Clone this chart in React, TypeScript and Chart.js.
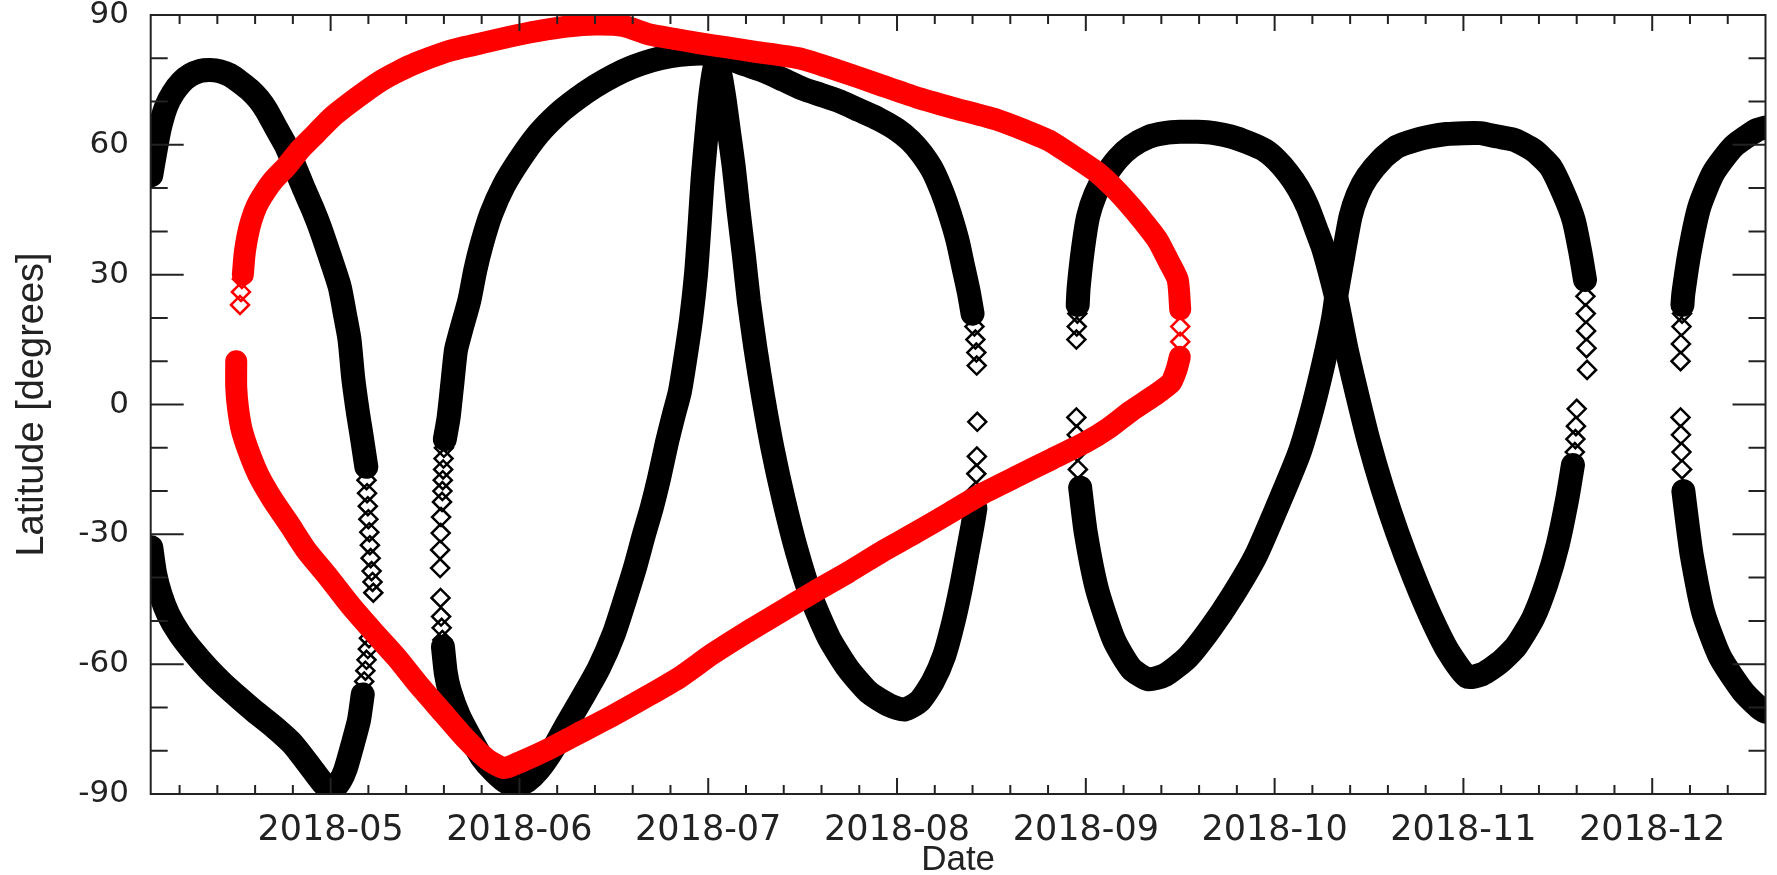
import React, { useEffect, useRef } from 'react';
import { Chart, registerables } from 'chart.js';

Chart.register(...registerables);

type Pt = [number, number];

// x is measured in months of 2018 counted from January = 0 (so 4 = 2018-05-01)
const X_MIN = 3.047;
const X_MAX = 11.6;
const monthTicks = [4, 5, 6, 7, 8, 9, 10, 11];
const monthLabels = ['2018-05', '2018-06', '2018-07', '2018-08', '2018-09', '2018-10', '2018-11', '2018-12'];
const latTicks = [-90, -60, -30, 0, 30, 60, 90];

// ---- black track, first lens (April / early May) ----
const arcA: Pt[] = [
  [3.05, 53], [3.07, 58], [3.096, 64], [3.13, 69], [3.166, 72], [3.21, 74.5], [3.256, 76.1],
  [3.31, 77.1], [3.361, 77.3], [3.415, 77], [3.467, 76.1], [3.52, 74.5], [3.572, 72.7],
  [3.62, 70.5], [3.66, 68], [3.71, 64], [3.766, 59.6], [3.81, 55], [3.854, 50.3], [3.9, 45.7],
  [3.942, 41.1], [3.99, 35], [4.048, 27.2], [4.075, 21], [4.1, 15], [4.12, 6], [4.145, -2],
  [4.162, -6.6], [4.189, -14.4],
];
const colA: Pt[] = [
  [4.19, -17.5], [4.193, -20.5], [4.197, -23.5], [4.2, -26.5], [4.205, -29.5], [4.208, -32.5],
  [4.212, -35.5], [4.217, -38.5], [4.222, -41], [4.226, -43.5],
];
const arcB: Pt[] = [
  [3.05, -33], [3.07, -39], [3.1, -44], [3.14, -48.5], [3.2, -53], [3.27, -57], [3.35, -61],
  [3.43, -64.5], [3.52, -68], [3.6, -71], [3.7, -74.5], [3.8, -78.5], [3.905, -84.4],
  [3.96, -87.5], [4.01, -89], [4.05, -87], [4.078, -84.4], [4.12, -78], [4.15, -73], [4.17, -67],
];
const colB: Pt[] = [[4.178, -64], [4.184, -61.5], [4.19, -59], [4.197, -56.5], [4.203, -54]];

// ---- black track, second lens (mid May to mid August) ----
const colL1: Pt[] = [
  [4.6, -10], [4.598, -12.5], [4.596, -15], [4.594, -17.5], [4.592, -20], [4.59, -22.5],
  [4.585, -26], [4.583, -29.7], [4.58, -33.6], [4.58, -37.8], [4.582, -44.7], [4.585, -49],
  [4.588, -51.6], [4.592, -54.4],
];
const arcU1: Pt[] = [
  [4.605, -8], [4.625, -3], [4.645, 5], [4.664, 12.6], [4.69, 17], [4.735, 24.1], [4.766, 31],
  [4.8, 37], [4.85, 44], [4.916, 50.5], [5.0, 56.5], [5.1, 62.5], [5.2, 67], [5.3, 70.5],
  [5.4, 73.5], [5.5, 76], [5.6, 78], [5.7, 79.5], [5.8, 80.5], [5.9, 81], [6.0, 81], [6.1, 80],
  [6.2, 78.5], [6.3, 77], [6.4, 75], [6.5, 73], [6.6, 71.5], [6.7, 70], [6.8, 68], [6.9, 66],
  [7.0, 63.5], [7.07, 61], [7.13, 58], [7.19, 54], [7.24, 49], [7.28, 44], [7.32, 38],
  [7.35, 32], [7.38, 26], [7.4, 21],
];
const colU1: Pt[] = [[7.41, 18], [7.415, 15], [7.42, 12], [7.422, 9]];
const arcL1: Pt[] = [
  [4.595, -56], [4.61, -62], [4.63, -66], [4.68, -72], [4.74, -77], [4.8, -81.5], [4.87, -85],
  [4.94, -87.5], [4.99, -88], [5.04, -87], [5.1, -84.5], [5.18, -79.5], [5.25, -74],
  [5.33, -68], [5.42, -61], [5.5, -53], [5.56, -45], [5.61, -38], [5.66, -30], [5.7, -24],
  [5.74, -17], [5.78, -9], [5.82, -2], [5.85, 3], [5.88, 11], [5.91, 20], [5.935, 30],
  [5.955, 42], [5.97, 52], [5.99, 62], [6.01, 71], [6.035, 78], [6.06, 77], [6.085, 71],
  [6.11, 63], [6.135, 55], [6.16, 45], [6.19, 34], [6.215, 24], [6.25, 13], [6.29, 2],
  [6.34, -10], [6.4, -22], [6.47, -34], [6.55, -45], [6.64, -54], [6.74, -61], [6.85, -66.5],
  [6.96, -69.5], [7.04, -70.5], [7.12, -68.5], [7.19, -64], [7.25, -58], [7.3, -50],
  [7.34, -42], [7.37, -35], [7.4, -28], [7.415, -24],
];
const colL1End: Pt[] = [[7.418, -20], [7.42, -16], [7.423, -12], [7.425, -4]];

// ---- black track, third lens (September to late November) ----
const colU2: Pt[] = [[7.95, 15], [7.952, 18], [7.955, 21]];
const arcU2: Pt[] = [
  [7.957, 23], [7.962, 27], [7.985, 36], [8.012, 43.4], [8.05, 48.5], [8.1, 52.6], [8.17, 56.8],
  [8.24, 59.6], [8.33, 61.8], [8.417, 62.7], [8.5, 63], [8.593, 63], [8.68, 62.7], [8.77, 61.9],
  [8.86, 60.5], [8.946, 58.8], [9.01, 56.5], [9.07, 53.5], [9.125, 50], [9.175, 45.7],
  [9.22, 40.5], [9.254, 36.5], [9.29, 31], [9.33, 24], [9.38, 13], [9.44, 1.8],
  [9.5, -8.7], [9.57, -19.2], [9.65, -29.7], [9.74, -40.1], [9.83, -49.3], [9.92, -57.1],
  [10.02, -62.9], [10.1, -62.3], [10.19, -59.7], [10.28, -55.8], [10.37, -49.3], [10.44, -41.4],
  [10.5, -32.3], [10.55, -21.8], [10.58, -14],
];
const colU2End: Pt[] = [[10.59, -11], [10.593, -8], [10.596, -5], [10.6, -1]];
const colL2: Pt[] = [[7.95, -3], [7.952, -7], [7.955, -11], [7.958, -15]];
const arcL2: Pt[] = [
  [7.97, -19.2], [8.0, -29.7], [8.06, -42.8], [8.15, -54.5], [8.24, -61], [8.33, -63.5],
  [8.42, -62.5], [8.54, -58.4], [8.66, -51.8], [8.78, -44], [8.9, -35], [9.02, -23],
  [9.13, -11.3], [9.2, -1], [9.26, 9.7], [9.31, 20], [9.33, 26], [9.35, 31], [9.402, 43.4],
  [9.44, 48.5], [9.49, 52.6], [9.57, 56.8], [9.65, 59.6], [9.74, 61], [9.825, 61.9],
  [9.91, 62.5], [10.0, 62.7], [10.09, 62.7], [10.18, 61.9], [10.27, 61.1], [10.37, 58.8],
  [10.46, 55], [10.53, 48.8], [10.584, 42.6], [10.62, 35], [10.644, 28.8],
];
const colL2End: Pt[] = [[10.646, 25], [10.648, 21], [10.65, 17], [10.652, 13], [10.655, 8]];

// ---- black track, fourth lens (December) ----
const colU4: Pt[] = [[11.15, 10], [11.152, 14], [11.155, 18], [11.158, 21]];
const arcU4: Pt[] = [
  [11.16, 23], [11.165, 25.7], [11.2, 35.7], [11.25, 45.7], [11.324, 53.5], [11.43, 59.6],
  [11.553, 63.4], [11.6, 64],
];
const colL4: Pt[] = [[11.15, -3], [11.152, -7], [11.155, -11], [11.158, -15]];
const arcL4: Pt[] = [
  [11.165, -20], [11.185, -27], [11.21, -35], [11.27, -48], [11.36, -58.4], [11.48, -66.3],
  [11.57, -70.2], [11.6, -71],
];

// ---- red loop ----
const redTipWest: Pt[] = [[3.52, 23], [3.525, 26], [3.53, 29]];
const redUpper: Pt[] = [
  [3.535, 30], [3.545, 35], [3.56, 39], [3.58, 42.5], [3.61, 46], [3.65, 49], [3.7, 52],
  [3.766, 55], [3.84, 59], [3.924, 62.7], [4.01, 66.5], [4.1, 69.6], [4.19, 72.5], [4.275, 75],
  [4.36, 77], [4.453, 78.9], [4.593, 81.2], [4.7, 82.5], [4.8, 83.5], [4.95, 85], [5.1, 86.3],
  [5.25, 87.3], [5.4, 87.8], [5.55, 87.5], [5.69, 85.5], [5.82, 84.5], [5.95, 83.5],
  [6.1, 82.5], [6.25, 81.5], [6.48, 80], [6.7, 77], [6.9, 74], [7.1, 71], [7.3, 68.5],
  [7.536, 65.7], [7.67, 63.5], [7.8, 61.1], [7.93, 57.5], [8.064, 53.5], [8.15, 50],
  [8.24, 45.7], [8.31, 42], [8.38, 38], [8.44, 33], [8.487, 28.8], [8.5, 22],
];
const redTipEast: Pt[] = [[8.5, 18], [8.5, 14.5]];
const redLower: Pt[] = [
  [8.498, 11], [8.48, 8], [8.45, 5], [8.36, 2], [8.24, -1.5], [8.12, -5.5], [8.0, -8.7],
  [7.82, -12.6], [7.64, -16.5], [7.46, -20.4], [7.28, -25], [7.1, -29.6], [6.92, -34],
  [6.74, -38.8], [6.56, -43.3], [6.38, -48], [6.2, -52.7], [6.02, -57.7], [5.85, -63],
  [5.67, -67.6], [5.49, -72], [5.3, -76.3], [5.16, -79.5], [5.01, -82.5], [4.92, -84],
  [4.83, -82], [4.71, -77], [4.59, -71], [4.47, -65], [4.35, -58.5], [4.23, -52.7],
  [4.11, -46.7], [3.99, -40], [3.87, -33.6], [3.78, -27.6], [3.69, -21.8], [3.62, -16.5],
  [3.57, -11.3], [3.53, -6], [3.51, -1], [3.5, 4], [3.5, 10],
];

const RED = 'rgb(255,0,0)';
const BLACK = '#000000';
const AXIS = '#222222';

const xy = (pts: Pt[]) => pts.map(([x, y]) => ({ x, y }));

const band = (pts: Pt[], color: string, width: number) => ({
  data: xy(pts),
  showLine: true,
  borderColor: color,
  borderWidth: width,
  borderJoinStyle: 'round' as const,
  borderCapStyle: 'round' as const,
  tension: 0.2,
  pointRadius: 0,
  pointHoverRadius: 0,
  fill: false,
  clip: 0,
});

const marks = (pts: Pt[], color: string) => ({
  data: xy(pts),
  showLine: false,
  pointStyle: 'rectRot' as const,
  pointRadius: 9,
  pointBorderWidth: 2.5,
  pointBorderColor: color,
  pointBackgroundColor: 'rgba(0,0,0,0)',
  borderColor: color,
  clip: 0,
});

// inward ticks on all four sides and the plot frame
const framePlugin = {
  id: 'plotFrame',
  afterDatasetsDraw(chart: any) {
    const { ctx, chartArea: a } = chart;
    const xs = chart.scales.x;
    const ys = chart.scales.y;
    ctx.save();
    ctx.strokeStyle = AXIS;
    ctx.lineWidth = 2;
    ctx.beginPath();
    ctx.rect(a.left, a.top, a.right - a.left, a.bottom - a.top);
    const minorPerMonth = 5;
    for (let i = Math.ceil(X_MIN * minorPerMonth); i <= Math.floor(X_MAX * minorPerMonth); i++) {
      const px = xs.getPixelForValue(i / minorPerMonth);
      const len = i % minorPerMonth === 0 ? 16 : 9;
      ctx.moveTo(px, a.bottom);
      ctx.lineTo(px, a.bottom - len);
      ctx.moveTo(px, a.top);
      ctx.lineTo(px, a.top + len);
    }
    for (let v = -80; v <= 80; v += 10) {
      const py = ys.getPixelForValue(v);
      const len = v % 30 === 0 ? 33 : 17;
      ctx.moveTo(a.left, py);
      ctx.lineTo(a.left + len, py);
      ctx.moveTo(a.right, py);
      ctx.lineTo(a.right - len, py);
    }
    ctx.stroke();
    ctx.restore();
  },
};

export default function App() {
  const canvasRef = useRef<HTMLCanvasElement>(null);

  useEffect(() => {
    const canvas = canvasRef.current;
    if (!canvas) return;
    const datasets: any[] = [
      // red loop on top
      band(redUpper, RED, 22),
      band(redLower, RED, 22),
      marks(redTipWest, RED),
      marks(redTipEast, RED),
      // black track
      band(arcA, BLACK, 24),
      band(arcB, BLACK, 24),
      marks(colA, BLACK),
      marks(colB, BLACK),
      band(arcU1, BLACK, 24),
      band(arcL1, BLACK, 24),
      marks(colL1, BLACK),
      marks(colU1, BLACK),
      marks(colL1End, BLACK),
      band(arcU2, BLACK, 24),
      band(arcL2, BLACK, 24),
      marks(colU2, BLACK),
      marks(colL2, BLACK),
      marks(colU2End, BLACK),
      marks(colL2End, BLACK),
      band(arcU4, BLACK, 24),
      band(arcL4, BLACK, 24),
      marks(colU4, BLACK),
      marks(colL4, BLACK),
    ];

    const chart = new Chart(canvas, {
      type: 'scatter',
      data: { datasets },
      options: {
        animation: false,
        responsive: false,
        devicePixelRatio: 1,
        events: [],
        layout: { padding: { left: 0, top: 15, right: 7.7, bottom: 0 } },
        plugins: { legend: { display: false }, tooltip: { enabled: false } },
        scales: {
          x: {
            type: 'linear',
            min: X_MIN,
            max: X_MAX,
            grid: { display: false },
            border: { display: false },
            afterBuildTicks: (scale: any) => {
              scale.ticks = monthTicks.map((value) => ({ value }));
            },
            afterFit: (scale: any) => {
              scale.height = 81;
              scale.paddingLeft = 0;
              scale.paddingRight = 0;
            },
            ticks: {
              autoSkip: false,
              maxRotation: 0,
              padding: 8,
              color: AXIS,
              font: { family: 'DejaVu Sans', size: 35, lineHeight: 1.2 },
              callback: (value: any) => {
                const i = monthTicks.indexOf(Number(value));
                return i >= 0 ? monthLabels[i] : '';
              },
            },
            title: {
              display: true,
              text: 'Date',
              color: AXIS,
              font: { family: 'Liberation Sans', size: 35, lineHeight: 0.8 },
              padding: { top: 0, bottom: 1 },
            },
          },
          y: {
            type: 'linear',
            min: -90,
            max: 90,
            grid: { display: false },
            border: { display: false },
            afterBuildTicks: (scale: any) => {
              scale.ticks = latTicks.map((value) => ({ value }));
            },
            afterFit: (scale: any) => {
              scale.width = 150.7;
              scale.paddingTop = 0;
              scale.paddingBottom = 0;
            },
            ticks: {
              autoSkip: false,
              padding: 13.7,
              color: AXIS,
              font: { family: 'DejaVu Sans', size: 31 },
              callback: (value: any) => String(value),
            },
            title: {
              display: true,
              text: 'Latitude [degrees]',
              color: AXIS,
              font: { family: 'Liberation Sans', size: 38, lineHeight: 1.2 },
              padding: { top: 10, bottom: 0 },
            },
          },
        },
      },
      plugins: [framePlugin],
    } as any);

    return () => chart.destroy();
  }, []);

  return (
    <div style={{ position: 'fixed', left: 0, top: 0, width: 1777, height: 875, background: '#ffffff' }}>
      <canvas ref={canvasRef} width={1777} height={875} style={{ display: 'block', width: 1777, height: 875 }} />
    </div>
  );
}
